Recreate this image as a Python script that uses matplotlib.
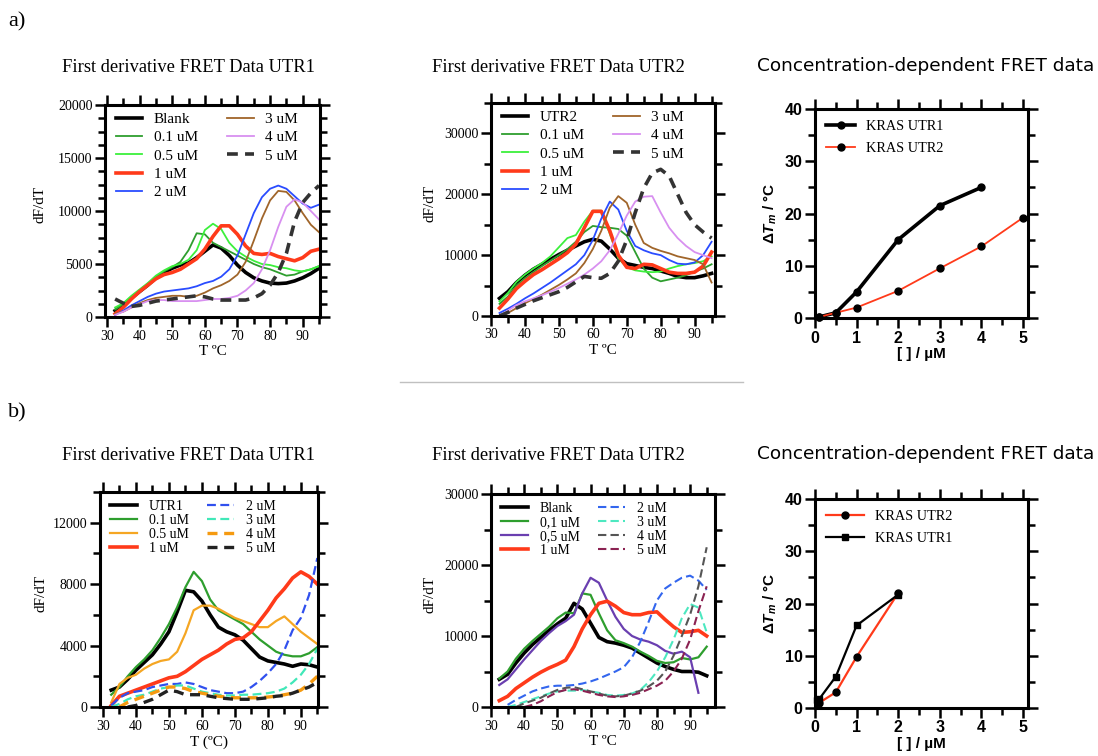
import numpy as np
import matplotlib
matplotlib.use("Agg")
import matplotlib.pyplot as plt
from matplotlib.lines import Line2D
from matplotlib.ticker import MultipleLocator, AutoMinorLocator

nan = float("nan")

# ---------------- data ----------------
T = [32.5, 35, 37.5, 40, 42.5, 45, 47.5, 50, 52.5, 55, 57.5, 60, 62.5, 65,
     67.5, 70, 72.5, 75, 77.5, 80, 82.5, 85, 87.5, 90, 92.5, 95]

# a) UTR1
a1_labels = ["Blank", "0.1 uM", "0.5 uM", "1 uM", "2 uM", "3 uM", "4 uM", "5 uM"]
a1_blank = [600, 1100, 1800, 2400, 3000, 3700, 4200, 4600, 4900, 5100, 5600, 6200, 6800, 6500,
            5800, 4900, 4200, 3700, 3400, 3200, 3150, 3200, 3400, 3700, 4100, 4600]
a1_c01 = [700, 1200, 1900, 2500, 3100, 3800, 4300, 4700, 5200, 6300, 7900, 7800, 7000, 6600,
          6200, 5800, 5400, 5000, 4700, 4500, 4200, 3900, 4000, 4300, 4500, 4800]
a1_c05 = [900, 1300, 2000, 2600, 3200, 3900, 4400, 4800, 5000, 5400, 6300, 8200, 8800, 8300,
          7000, 6200, 5700, 5300, 5000, 4900, 4700, 4600, 4400, 4300, 4500, 4800]
a1_c1 = [300, 900, 1700, 2400, 3000, 3600, 4000, 4200, 4500, 5000, 5500, 6400, 7600, 8600,
         8600, 7800, 6700, 6000, 5900, 6000, 5700, 5500, 5300, 5600, 6200, 6400]
a1_c2 = [200, 600, 1100, 1500, 1900, 2200, 2400, 2500, 2600, 2700, 2900, 3200, 3400, 3800,
         4500, 5800, 7800, 9800, 11300, 12100, 12400, 12100, 11400, 10700, 10300, 10600]
a1_c3 = [300, 500, 900, 1300, 1600, 1800, 1900, 2000, 2000, 1900, 2000, 2300, 2700, 3000,
         3400, 4000, 5200, 7200, 9300, 11000, 11900, 11800, 11000, 9800, 8700, 8000]
a1_c4 = [200, 500, 900, 1200, 1500, 1600, 1600, 1500, 1500, 1500, 1500, 1600, 1700, 1700,
         1800, 2000, 2500, 3200, 4500, 6300, 8500, 10400, 11100, 10800, 10000, 9200]
a1_c5 = [1700, 1300, 1000, 1100, 1300, 1500, 1600, 1700, 1800, 1900, 2000, 1900, 1700, 1600,
         1600, 1600, 1600, 1800, 2200, 3000, 4200, 6000, 9000, 10800, 11700, 12400]

# a) UTR2
a2_labels = ["UTR2", "0.1 uM", "0.5 uM", "1 uM", "2 uM", "3 uM", "4 uM", "5 uM"]
a2_blank = [2900, 4000, 5500, 6700, 7700, 8500, 9300, 10100, 10800, 11500, 12200, 12600, 12300, 11000,
            9500, 8600, 8300, 8000, 7800, 7400, 7000, 6500, 6300, 6300, 6600, 7000]
a2_c01 = [2000, 3200, 5000, 6200, 7200, 8200, 9100, 10000, 11000, 12200, 13800, 14800, 14600, 14500,
          14300, 13200, 10500, 7800, 6300, 5700, 6000, 6300, 6700, 7300, 7800, 8500]
a2_c05 = [2400, 3800, 5600, 6800, 7800, 8700, 9800, 11300, 12800, 13300, 15500, 17300, 17300, 13500,
          9500, 8000, 7500, 7300, 7200, 7300, 7800, 8200, 8500, 8700, 9000, 9800]
a2_c1 = [1300, 2800, 4500, 5700, 6800, 7600, 8500, 9400, 10400, 11800, 14500, 17200, 17200, 14000,
         10000, 8000, 7800, 8500, 8400, 7800, 7200, 7000, 7000, 7200, 8200, 10500]
a2_c2 = [500, 1200, 2000, 2900, 3700, 4600, 5500, 6500, 7500, 8500, 10000, 12500, 16000, 18800,
         17500, 14000, 11500, 10800, 10300, 10000, 9200, 8600, 8500, 8800, 10000, 12200]
a2_c3 = [0, 500, 1300, 2100, 2800, 3500, 4300, 5100, 6000, 7000, 8700, 11000, 14000, 17800,
         19700, 18600, 15000, 12000, 11200, 10700, 10300, 9800, 9500, 9200, 8500, 5500]
a2_c4 = [0, 900, 1800, 2400, 2900, 3400, 4000, 4600, 5300, 6000, 6800, 7800, 9000, 10800,
         13500, 16500, 18800, 19600, 19700, 17000, 14500, 12800, 11500, 10500, 10000, 9500]
a2_c5 = [0, 600, 1300, 1900, 2500, 3000, 3500, 4000, 4700, 5600, 6500, 6300, 6200, 7000,
         9000, 12500, 17000, 21000, 23500, 24100, 23000, 20000, 17000, 15000, 13800, 12800]

# b) UTR1
b1_labels = ["UTR1", "0.1 uM", "0.5 uM", "1 uM", "2 uM", "3 uM", "4 uM", "5 uM"]
b1_blank = [1100, 1300, 1800, 2400, 2900, 3400, 4100, 4900, 6200, 7600, 7500, 6900, 6000, 5200,
            4900, 4700, 4350, 3800, 3250, 3000, 2900, 2800, 2650, 2800, 2750, 2600]
b1_c01 = [800, 1300, 2000, 2600, 3100, 3700, 4500, 5400, 6500, 7800, 8800, 8200, 7000, 6300,
          6000, 5700, 5400, 4900, 4400, 4000, 3600, 3400, 3300, 3300, 3500, 3900]
b1_c05 = [300, 1500, 1900, 2100, 2500, 2800, 3000, 3100, 3600, 4800, 6300, 6600, 6600, 6400,
          6100, 5800, 5600, 5400, 5200, 5200, 5600, 5900, 5400, 4900, 4500, 4100]
b1_c1 = [100, 700, 900, 1100, 1300, 1500, 1700, 1900, 2000, 2300, 2700, 3100, 3400, 3700,
         4100, 4400, 4500, 4900, 5600, 6300, 7100, 7700, 8400, 8800, 8500, 8000]
b1_c2 = [100, 600, 900, 1000, 1100, 1300, 1400, 1500, 1500, 1600, 1500, 1300, 1100, 1000,
         900, 900, 1000, 1300, 1700, 2200, 2800, 3700, 5000, 5800, 7300, 9700]
b1_c3 = [0, 200, 500, 700, 800, 1000, 1200, 1300, 1400, 1400, 1200, 1000, 900, 800,
         750, 750, 800, 800, 850, 900, 1000, 1200, 1600, 2100, 2800, 3800]
b1_c4 = [nan, 0, 300, 500, 700, 900, 1100, 1300, 1300, 1200, 1000, 900, 800, 700,
         650, 600, 600, 600, 600, 650, 700, 800, 900, 1100, 1500, 2000]
b1_c5 = [nan, nan, 0, 100, 300, 500, 800, 1100, 1000, 800, 800, 800, 700, 600,
         550, 500, 500, 500, 550, 600, 700, 750, 900, 1100, 1300, 1600]

# b) UTR2
b2_labels = ["Blank", "0,1 uM", "0,5 uM", "1 uM", "2 uM", "3 uM", "4 uM", "5 uM"]
b2_blank = [3900, 4600, 6200, 7600, 8800, 9800, 10800, 11700, 12500, 14600, 13800, 11800, 9800, 9200,
            9000, 8700, 8300, 7600, 6900, 6200, 5700, 5300, 5000, 5000, 4900, 4400]
b2_c01 = [4000, 5000, 6800, 8200, 9300, 10300, 11300, 12500, 13300, 13200, 16000, 15800, 13200, 10800,
          9400, 9000, 8500, 7800, 7200, 6500, 6200, 6300, 6900, 6700, 7000, 8500]
b2_c05 = [3100, 3900, 5300, 6700, 8000, 9300, 10400, 11400, 12100, 13000, 16000, 18200, 17500, 15000,
          12700, 11000, 10000, 9500, 9200, 8700, 7900, 7500, 7800, 7000, 2000, nan]
b2_c1 = [900, 1500, 2600, 3400, 4200, 4900, 5500, 6000, 6600, 8500, 11000, 13000, 14600, 14900,
         14200, 13300, 13000, 13000, 13300, 13400, 12300, 11300, 10500, 10600, 10800, 10000]
b2_c2 = [nan, 300, 1000, 1600, 2200, 2600, 2900, 3000, 3000, 3100, 3300, 3600, 4000, 4500,
         5000, 5600, 7000, 9200, 12000, 15000, 16700, 17500, 18200, 18500, 17800, 16500]
b2_c3 = [nan, 0, 300, 700, 1100, 1500, 1900, 2200, 2300, 2300, 2400, 2200, 2000, 1700,
         1600, 1700, 1900, 2400, 3500, 5000, 7000, 9500, 12500, 14500, 14000, 10500]
b2_c4 = [nan, nan, 0, 500, 900, 1300, 1900, 2400, 2700, 2800, 2500, 2200, 1900, 1600,
         1500, 1600, 1900, 2300, 2900, 3700, 5000, 7200, 10000, 13000, 17000, 22500]
b2_c5 = [nan, nan, nan, 0, 300, 800, 1500, 2100, 2400, 2500, 2300, 2000, 1700, 1500,
         1400, 1500, 1700, 2000, 2500, 3000, 3700, 5000, 6800, 9500, 13500, 17000]

# concentration-dependent
a3_x_utr1 = [0.1, 0.5, 1, 2, 3, 4]
a3_y_utr1 = [0.2, 1.0, 5.0, 15.0, 21.5, 25.0]
a3_x_utr2 = [0.1, 0.5, 1, 2, 3, 4, 5]
a3_y_utr2 = [0.2, 1.0, 2.0, 5.2, 9.5, 13.7, 19.2]
b3_x_utr2 = [0.1, 0.5, 1, 2]
b3_y_utr2 = [1.0, 3.0, 9.8, 22.0]
b3_x_utr1 = [0.05, 0.1, 0.5, 1, 2]
b3_y_utr1 = [1.6, 1.7, 6.0, 15.8, 21.7]

# ---------------- figure ----------------
W, H = 1098, 756
fig = plt.figure(figsize=(W / 100, H / 100), dpi=100)
SERIF = "Liberation Serif"
SANS = "Liberation Sans"
plt.rcParams["mathtext.fontset"] = "custom"
plt.rcParams["mathtext.rm"] = "Liberation Sans:bold"
plt.rcParams["mathtext.it"] = "Liberation Sans:bold:italic"
plt.rcParams["mathtext.bf"] = "Liberation Sans:bold"


def ax_px(l, t, r, b):
    return fig.add_axes([l / W, 1 - b / H, (r - l) / W, (b - t) / H])


def style(ax, xmaj, ymaj, xminor_n, yminor_n, font, bold=False, size=10):
    for s in ax.spines.values():
        s.set_linewidth(2.2)
    ax.xaxis.set_major_locator(MultipleLocator(xmaj))
    ax.yaxis.set_major_locator(MultipleLocator(ymaj))
    ax.xaxis.set_minor_locator(AutoMinorLocator(xminor_n))
    ax.yaxis.set_minor_locator(AutoMinorLocator(yminor_n))
    ax.tick_params(which="both", direction="out", top=True, right=True, width=1.8,
                   labelsize=size, pad=2)
    ax.tick_params(which="major", length=7)
    ax.tick_params(which="minor", length=5)
    for lbl in ax.get_xticklabels() + ax.get_yticklabels():
        lbl.set_fontfamily(font)
        if bold:
            lbl.set_fontweight("bold")


def curve_panel(ax, series, labels, styles, ylim, xlim, ymaj, xlabel, split5, ylab_x):
    for y, lab, st in zip(series, labels, styles):
        ax.plot(T, y, label=lab, **st)
    ax.set_xlim(*xlim)
    ax.set_ylim(*ylim)
    style(ax, 10, ymaj, 2, 4 if ymaj == 5000 else 2, SERIF, size=10)
    ax.set_ylabel("dF/dT", fontfamily=SERIF, fontsize=11)
    ax.yaxis.set_label_coords(ylab_x, 0.53)
    ax.set_xlabel(xlabel, fontfamily=SERIF, fontsize=11, labelpad=2)
    handles, labs = ax.get_legend_handles_labels()
    if split5:
        blank = Line2D([], [], color="none")
        handles = handles + [blank, blank]
        labs = labs + [" ", " "]
        ax.legend(handles, labs, ncol=2, frameon=False, loc="upper left",
                  bbox_to_anchor=(0.0, 1.015), prop={"family": SERIF, "size": 11},
                  handlelength=1.75, handletextpad=0.75, columnspacing=1.9,
                  labelspacing=0.3, borderaxespad=0.3)
    else:
        ax.legend(handles, labs, ncol=2, frameon=False, loc="upper left",
                  bbox_to_anchor=(0.0, 1.01), prop={"family": SERIF, "size": 10},
                  handlelength=1.95, handletextpad=0.85, columnspacing=1.3,
                  labelspacing=0.08, borderaxespad=0.3)


def thin(c, **kw):
    d = dict(color=c, lw=1.3)
    d.update(kw)
    return d


a_styles = [thin("black", lw=2.6), thin("#2e9e2e"), thin("#3cf03c"), thin("#ff3a1a", lw=2.6),
            thin("#2a4cff"), thin("#a0652a"), thin("#d890f0"),
            thin("#333333", lw=2.6, ls=(0, (3, 2)))]

# a) UTR1
ax = ax_px(105, 105, 320, 317)
curve_panel(ax, [a1_blank, a1_c01, a1_c05, a1_c1, a1_c2, a1_c3, a1_c4, a1_c5], a1_labels,
            a_styles, (0, 20000), (29.4, 95.3), 5000, "T ºC", True, -0.27)

# a) UTR2
ax = ax_px(491, 103, 715, 316)
curve_panel(ax, [a2_blank, a2_c01, a2_c05, a2_c1, a2_c2, a2_c3, a2_c4, a2_c5], a2_labels,
            a_styles, (0, 35000), (30, 96), 10000, "T ºC", True, -0.245)

# b) UTR1
b1_styles = [thin("black", lw=2.6), thin("#2e9e2e", lw=1.6), thin("#f5a623", lw=1.6),
             thin("#ff3a1a", lw=2.6), thin("#3050ee", lw=1.6, ls=(0, (4, 2))),
             thin("#40e8b8", lw=1.6, ls=(0, (4, 2))), thin("#f59a10", lw=2.4, ls=(0, (3, 2))),
             thin("#222222", lw=2.4, ls=(0, (3, 2)))]
ax = ax_px(100, 492, 318, 707)
curve_panel(ax, [b1_blank, b1_c01, b1_c05, b1_c1, b1_c2, b1_c3, b1_c4, b1_c5], b1_labels,
            b1_styles, (0, 14000), (29.1, 95.2), 4000, "T (ºC)", False, -0.243)

# b) UTR2
b2_styles = [thin("black", lw=2.6), thin("#2e9e2e", lw=1.6), thin("#6a3fb0", lw=1.6),
             thin("#ff3a1a", lw=2.6), thin("#3366ee", lw=1.5, ls=(0, (4, 2))),
             thin("#4de8c0", lw=1.5, ls=(0, (4, 2))), thin("#555555", lw=1.5, ls=(0, (4, 2))),
             thin("#8b2252", lw=1.5, ls=(0, (4, 2)))]
ax = ax_px(491, 494, 715, 707)
curve_panel(ax, [b2_blank, b2_c01, b2_c05, b2_c1, b2_c2, b2_c3, b2_c4, b2_c5], b2_labels,
            b2_styles, (0, 30000), (30, 97.5), 10000, "T ºC", False, -0.245)


def conc_panel(ax):
    ax.set_xlim(0, 5.12)
    ax.set_ylim(0, 40)
    style(ax, 1, 10, 2, 2, SANS, bold=True, size=11.5)
    ax.set_ylabel(r"$\Delta T_m$ / °C", fontfamily=SANS, fontweight="bold", fontsize=11)
    ax.set_xlabel("[ ] / µM", fontfamily=SANS, fontweight="bold", fontsize=11, labelpad=1)


# a) concentration
ax = ax_px(815, 109, 1028, 318)
ax.plot(a3_x_utr1, a3_y_utr1, color="black", lw=2.6, marker="o", ms=5, label="KRAS UTR1",
        clip_on=False, zorder=3)
ax.plot(a3_x_utr2, a3_y_utr2, color="#ff3a1a", lw=1.3, marker="o", ms=5, mfc="black",
        mec="black", label="KRAS UTR2", clip_on=False, zorder=3)
conc_panel(ax)
ax.legend(frameon=False, loc="upper left", prop={"family": SERIF, "size": 10.3},
          handlelength=2.0, handletextpad=0.8, labelspacing=0.6, borderaxespad=0.4)

# b) concentration
ax = ax_px(815, 499, 1028, 708)
ax.plot(b3_x_utr2, b3_y_utr2, color="#ff3a1a", lw=1.6, marker="o", ms=5, mfc="black",
        mec="black", label="KRAS UTR2", clip_on=False, zorder=3)
ax.plot(b3_x_utr1, b3_y_utr1, color="black", lw=1.6, marker="s", ms=5, label="KRAS UTR1",
        clip_on=False, zorder=3)
conc_panel(ax)
ax.legend(frameon=False, loc="upper left", prop={"family": SERIF, "size": 10.3},
          handlelength=2.6, handletextpad=0.8, labelspacing=0.6, borderaxespad=0.4)

# ---------------- titles and panel letters ----------------
fig.text(8 / W, 1 - 22 / H, "a)", fontfamily=SERIF, fontsize=16, va="center", ha="left")
fig.text(8 / W, 1 - 413 / H, "b)", fontfamily=SERIF, fontsize=16, va="center", ha="left")
for yy in (67, 455):
    fig.text(189 / W, 1 - yy / H, "First derivative FRET Data UTR1", fontfamily=SERIF,
             fontsize=13.3, ha="center", va="center")
    fig.text(558 / W, 1 - yy / H, "First derivative FRET Data UTR2", fontfamily=SERIF,
             fontsize=13.3, ha="center", va="center")
    fig.text(926 / W, 1 - (yy - 1) / H, "Concentration-dependent FRET data",
             fontfamily="DejaVu Sans", fontsize=13.3, ha="center", va="center")

fig.add_artist(Line2D([400 / W, 743 / W], [1 - 382 / H, 1 - 382 / H], color="#c0c0c0", lw=1))

fig.savefig("out.png", dpi=100)
